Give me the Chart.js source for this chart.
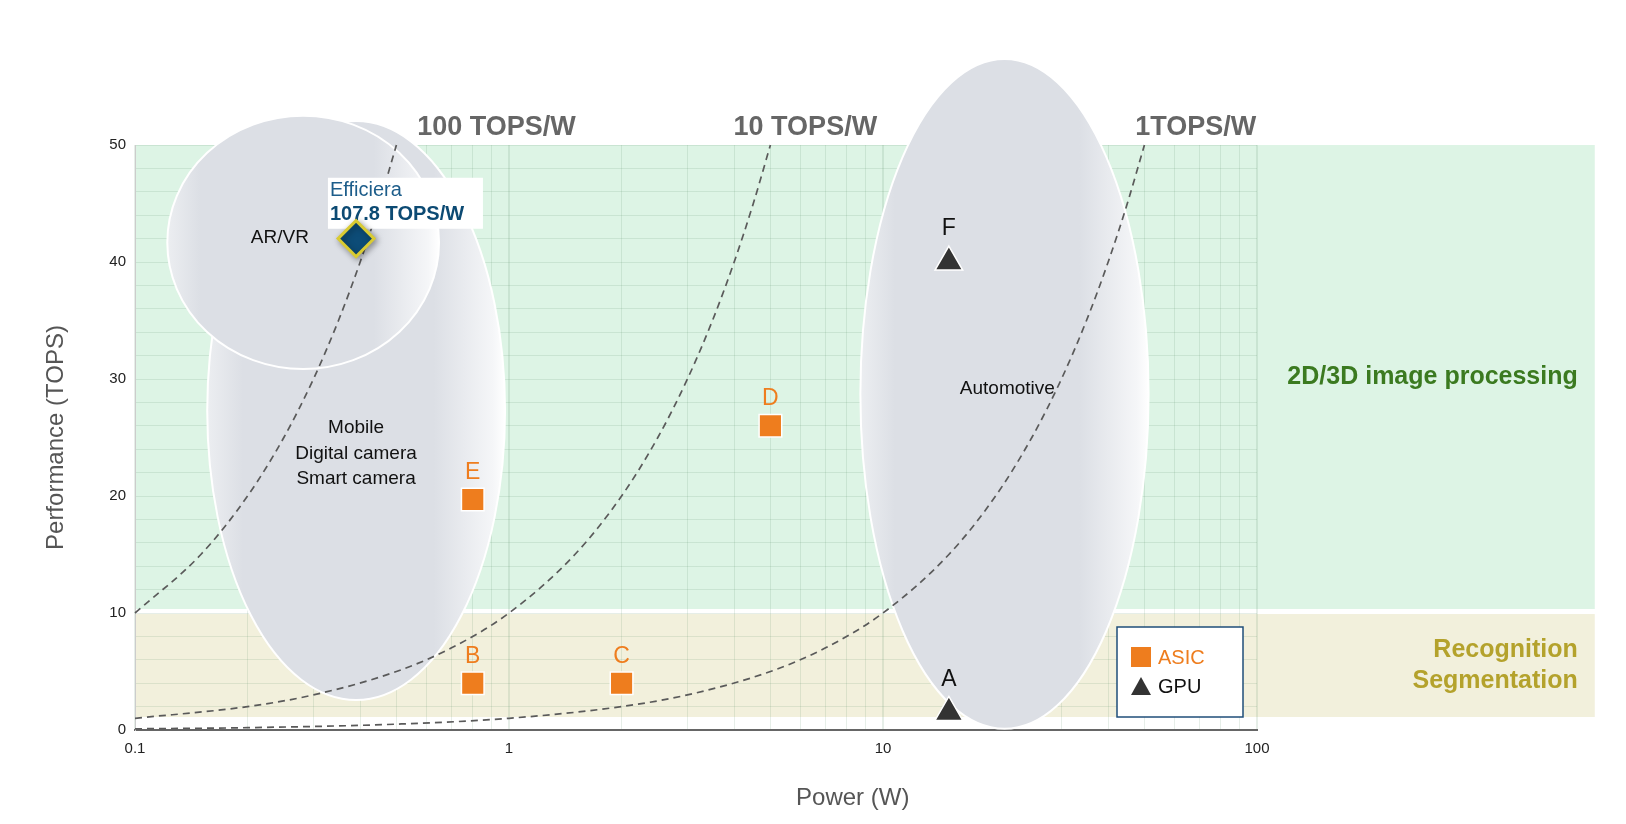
<!DOCTYPE html>
<html>
<head>
<meta charset="utf-8">
<script src="https://cdn.jsdelivr.net/npm/chart.js@4.4.1/dist/chart.umd.min.js"></script>
<style>
  html, body { margin: 0; padding: 0; background: #fff; }
</style>
</head>
<body>
<canvas id="chart" width="1626" height="824"></canvas>
<script>
// ---- data ----
const asicNames = ['B', 'C', 'D', 'E'];
const asicPower = [0.8, 2, 5, 0.8];
const asicTops = [4, 4, 26, 19.7];

const gpuNames = ['A', 'F'];
const gpuPower = [15, 15];
const gpuTops = [1.5, 40];

const efficieraPower = [0.39];
const efficieraTops = [42];

// dashed TOPS/W guides
const line100Power = [0.1, 0.15, 0.2, 0.25, 0.3, 0.35, 0.4, 0.45, 0.5];
const line100Tops = [10, 15, 20, 25, 30, 35, 40, 45, 50];
const line10Power = [0.1, 0.2, 0.3, 0.5, 0.7, 1, 1.5, 2, 2.5, 3, 3.5, 4, 4.5, 5];
const line10Tops = [1, 2, 3, 5, 7, 10, 15, 20, 25, 30, 35, 40, 45, 50];
const line1Power = [0.1, 0.2, 0.5, 1, 2, 3, 5, 7, 10, 15, 20, 25, 30, 35, 40, 45, 50];
const line1Tops = [0.1, 0.2, 0.5, 1, 2, 3, 5, 7, 10, 15, 20, 25, 30, 35, 40, 45, 50];

const effLabels = ['100 TOPS/W', '10 TOPS/W', '1TOPS/W'];
const effLabelPower = [0.926, 6.2, 68.6];
const effLabelTops = [51.5, 51.5, 51.5];

// application regions (ellipses), bounding boxes in W / TOPS
const regionNames = ['Mobile', 'AR/VR', 'Automotive'];
const regionPowerMin = [0.156, 0.122, 8.7];
const regionPowerMax = [0.976, 0.65, 51.3];
const regionTopsMin = [2.56, 30.85, 0.1];
const regionTopsMax = [52.05, 52.5, 57.35];
const regionText = [['Mobile', 'Digital camera', 'Smart camera'], ['AR/VR'], ['Automotive']];
const regionTextPower = [0.39, 0.244, 21.5];
const regionTextTops = [25.8, 42.1, 29.2];

// workload bands
const bandNames = [['2D/3D image processing'], ['Recognition', 'Segmentation']];
const bandTopsMin = [10.34, 1.11];
const bandTopsMax = [50, 9.91];
const bandPowerMax = 800;

const xTickValues = [0.1, 1, 10, 100];
const yTickValues = [0, 10, 20, 30, 40, 50];
const xTitlePower = 8.3;

const orange = '#ee7d1e';
const FONT = "'Liberation Sans', Arial, sans-serif";
Chart.defaults.font.family = FONT;

const isDecade = v => Math.abs(Math.log10(v) - Math.round(Math.log10(v))) < 1e-6;

const pts = (xs, ys) => xs.map((x, i) => ({ x: x, y: ys[i] }));

function ellipsePath(ctx, x0, y0, x1, y1) {
  ctx.beginPath();
  ctx.ellipse((x0 + x1) / 2, (y0 + y1) / 2, (x1 - x0) / 2, (y1 - y0) / 2, 0, 0, Math.PI * 2);
}

const backdrop = {
  id: 'backdrop',
  beforeDraw(chart) {
    const { ctx, scales: { x, y } } = chart;
    const colors = ['#ddf4e5', '#f2f0dc'];
    ctx.save();
    bandNames.forEach((b, i) => {
      const x0 = x.getPixelForValue(x.min);
      const x1 = x.getPixelForValue(bandPowerMax);
      const y0 = y.getPixelForValue(bandTopsMax[i]);
      const y1 = y.getPixelForValue(bandTopsMin[i]);
      ctx.fillStyle = colors[i];
      ctx.fillRect(x0, y0, x1 - x0, y1 - y0);
    });
    ctx.restore();
  },
  beforeDatasetsDraw(chart) {
    const { ctx, scales: { x, y } } = chart;
    ctx.save();
    regionNames.forEach((r, i) => {
      const x0 = x.getPixelForValue(regionPowerMin[i]);
      const x1 = x.getPixelForValue(regionPowerMax[i]);
      const y0 = y.getPixelForValue(regionTopsMax[i]);
      const y1 = y.getPixelForValue(regionTopsMin[i]);
      const g = ctx.createLinearGradient(x0, 0, x1, 0);
      g.addColorStop(0, '#eceef1');
      g.addColorStop(0.12, '#dcdfe5');
      g.addColorStop(0.76, '#dcdfe5');
      g.addColorStop(0.96, '#f5f6f8');
      g.addColorStop(1, '#ffffff');
      ellipsePath(ctx, x0, y0, x1, y1);
      ctx.fillStyle = g;
      ctx.fill();
      ctx.strokeStyle = '#ffffff';
      ctx.lineWidth = 2;
      ctx.stroke();
    });
    ctx.restore();
  },
  beforeDatasetDraw(chart, args) {
    const { ctx, scales: { x, y } } = chart;
    if (args.index !== 0) return;
    // Efficiera call-out box, under the diamond
    const left = x.getPixelForValue(0.328);
    const top = y.getPixelForValue(47.2);
    ctx.save();
    ctx.fillStyle = '#ffffff';
    ctx.fillRect(left, top, 155, 51);
    ctx.textAlign = 'left';
    ctx.textBaseline = 'middle';
    ctx.fillStyle = '#1d5d8a';
    ctx.font = '20px ' + FONT;
    ctx.fillText('Efficiera', left + 2, top + 13);
    ctx.fillStyle = '#0c4a73';
    ctx.font = 'bold 20px ' + FONT;
    ctx.fillText('107.8 TOPS/W', left + 2, top + 37);
    ctx.shadowColor = 'rgba(0,0,0,0.35)';
    ctx.shadowBlur = 6;
    ctx.shadowOffsetX = 2;
    ctx.shadowOffsetY = 2;
  },
  afterDatasetDraw(chart, args) {
    if (args.index === 0) chart.ctx.restore();
  },
  afterDatasetsDraw(chart) {
    const { ctx, chartArea, scales: { x, y } } = chart;
    ctx.save();
    ctx.textAlign = 'center';
    ctx.textBaseline = 'middle';

    // point letters
    ctx.font = '23px ' + FONT;
    chart.getDatasetMeta(1).data.forEach((p, i) => {
      ctx.fillStyle = orange;
      ctx.fillText(asicNames[i], p.x, p.y - 27);
    });
    chart.getDatasetMeta(2).data.forEach((p, i) => {
      ctx.fillStyle = '#111';
      ctx.fillText(gpuNames[i], p.x, p.y - 33);
    });

    // region captions
    ctx.font = '19px ' + FONT;
    ctx.fillStyle = '#111';
    regionText.forEach((lines, i) => {
      const cx = x.getPixelForValue(regionTextPower[i]);
      const cy = y.getPixelForValue(regionTextTops[i]);
      lines.forEach((t, k) => ctx.fillText(t, cx, cy + k * 25.5));
    });

    // TOPS/W captions
    ctx.font = 'bold 27px ' + FONT;
    ctx.fillStyle = '#666';
    effLabels.forEach((t, i) => {
      ctx.fillText(t, x.getPixelForValue(effLabelPower[i]), y.getPixelForValue(effLabelTops[i]));
    });

    // band captions
    const bandColors = ['#3b7a20', '#b4a22c'];
    ctx.font = 'bold 25px ' + FONT;
    ctx.textAlign = 'right';
    const bx = x.getPixelForValue(bandPowerMax) - 17;
    bandNames.forEach((lines, i) => {
      const yc = (y.getPixelForValue(bandTopsMax[i]) + y.getPixelForValue(bandTopsMin[i])) / 2;
      ctx.fillStyle = bandColors[i];
      lines.forEach((t, k) => ctx.fillText(t, bx, yc + (k - (lines.length - 1) / 2) * 31));
    });

    // legend box
    const lw = 126, lh = 90;
    const lx = chartArea.right - 14 - lw;
    const ly = chartArea.bottom - 13 - lh;
    ctx.fillStyle = '#fff';
    ctx.fillRect(lx, ly, lw, lh);
    ctx.strokeStyle = '#1f4e79';
    ctx.lineWidth = 1.5;
    ctx.strokeRect(lx, ly, lw, lh);
    ctx.fillStyle = orange;
    ctx.fillRect(lx + 14, ly + 20, 20, 20);
    ctx.beginPath();
    ctx.moveTo(lx + 24, ly + 50);
    ctx.lineTo(lx + 34, ly + 68);
    ctx.lineTo(lx + 14, ly + 68);
    ctx.closePath();
    ctx.fillStyle = '#333';
    ctx.fill();
    ctx.textAlign = 'left';
    ctx.font = '20px ' + FONT;
    ctx.fillStyle = orange;
    ctx.fillText('ASIC', lx + 41, ly + 31);
    ctx.fillStyle = '#111';
    ctx.fillText('GPU', lx + 41, ly + 60);

    // x axis title
    ctx.textAlign = 'center';
    ctx.font = '24px ' + FONT;
    ctx.fillStyle = '#555';
    ctx.fillText('Power (W)', x.getPixelForValue(xTitlePower), chartArea.bottom + 68);
    ctx.restore();
  }
};

const guide = (data) => ({
  data: data,
  showLine: true,
  borderColor: '#5a5a5a',
  borderWidth: 1.7,
  borderDash: [7, 5],
  pointRadius: 0,
  tension: 0.3,
  cubicInterpolationMode: 'monotone',
  order: 2
});

new Chart(document.getElementById('chart'), {
  type: 'scatter',
  data: {
    datasets: [
      {
        label: 'Efficiera',
        data: pts(efficieraPower, efficieraTops),
        pointStyle: 'rectRot',
        pointRadius: 18,
        backgroundColor: '#0d4c77',
        borderColor: '#d9cb32',
        borderWidth: 3,
        order: 0
      },
      {
        label: 'ASIC',
        data: pts(asicPower, asicTops),
        pointStyle: 'rect',
        pointRadius: 16,
        backgroundColor: orange,
        borderColor: '#fff',
        borderWidth: 1.5,
        order: 1
      },
      {
        label: 'GPU',
        data: pts(gpuPower, gpuTops),
        pointStyle: 'triangle',
        pointRadius: 16,
        backgroundColor: '#333',
        borderColor: '#fff',
        borderWidth: 1.5,
        order: 1
      },
      guide(pts(line100Power, line100Tops)),
      guide(pts(line10Power, line10Tops)),
      guide(pts(line1Power, line1Tops))
    ]
  },
  options: {
    responsive: false,
    devicePixelRatio: 1,
    animation: false,
    events: [],
    clip: false,
    layout: { padding: { top: 145, right: 369, left: 0, bottom: 0 } },
    plugins: { legend: { display: false }, tooltip: { enabled: false } },
    scales: {
      x: {
        type: 'logarithmic',
        min: 0.1,
        max: 100,
        afterFit(scale) { scale.height = 94; },
        afterBuildTicks(scale) {
          const ticks = [];
          xTickValues.forEach((d, i) => {
            const steps = i < xTickValues.length - 1 ? [1, 2, 3, 4, 5, 6, 7, 8, 9] : [1];
            steps.forEach(m => ticks.push({ value: +(d * m).toPrecision(3) }));
          });
          scale.ticks = ticks;
        },
        ticks: {
          autoSkip: false,
          maxRotation: 0,
          padding: 10,
          color: '#222',
          font: { size: 15 },
          callback: v => (xTickValues.includes(v) ? String(v) : '')
        },
        grid: {
          drawTicks: false,
          color: 'rgba(90,140,100,0.15)',
          lineWidth: c => (c.tick && isDecade(c.tick.value) ? 2 : 1)
        },
        border: { color: '#666', width: 2 }
      },
      y: {
        min: 0,
        max: 50,
        afterFit(scale) { scale.width = 135; },
        ticks: {
          stepSize: 2,
          autoSkip: false,
          padding: 9,
          color: '#222',
          font: { size: 15 },
          callback: v => (yTickValues.includes(v) ? String(v) : '')
        },
        grid: {
          drawTicks: false,
          color: 'rgba(90,140,100,0.15)'
        },
        border: { color: '#ccc', width: 1 },
        title: {
          display: true,
          text: 'Performance (TOPS)',
          color: '#555',
          font: { size: 24 },
          padding: { top: 42, bottom: 0 }
        }
      }
    }
  },
  plugins: [backdrop]
});
</script>
</body>
</html>
